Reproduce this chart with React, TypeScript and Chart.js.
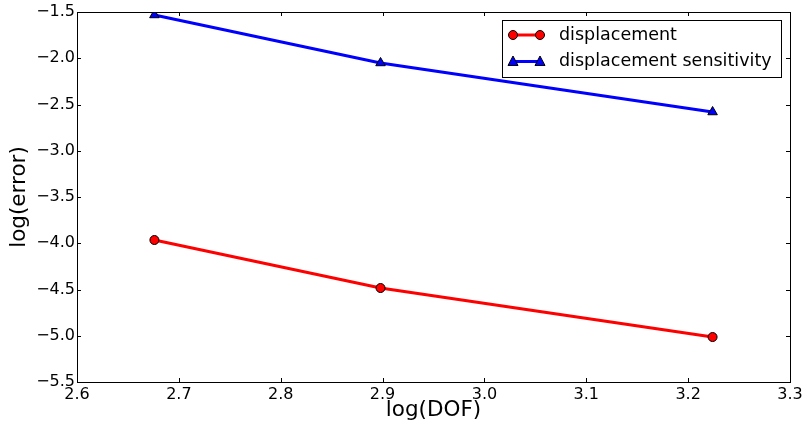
import React, { useEffect, useRef } from "react";
import { Chart, registerables } from "chart.js";

Chart.register(...registerables);

const logDOF = [2.676, 2.898, 3.224];
const displacementErr = [-3.965, -4.484, -5.014];
const sensitivityErr = [-1.532, -2.051, -2.581];
const seriesLabels = ["displacement", "displacement sensitivity"];
const xTitle = "log(DOF)";
const yTitle = "log(error)";

const FONT = "'DejaVu Sans', sans-serif";

const fmt = (v: number) => (v < 0 ? "\u2212" : "") + Math.abs(v).toFixed(1);

const framePlugin = {
  id: "mplFrame",
  afterDraw(chart: any) {
    const { ctx, chartArea } = chart;
    const { left, right, top, bottom } = chartArea;
    const xs = chart.scales.x;
    const ys = chart.scales.y;
    ctx.save();
    ctx.strokeStyle = "#000";
    ctx.lineWidth = 1;
    ctx.strokeRect(Math.round(left) + 0.5, Math.round(top) + 0.5, Math.round(right - left), Math.round(bottom - top));
    const tl = 4;
    ctx.beginPath();
    xs.ticks.forEach((t: any) => {
      const px = Math.round(xs.getPixelForValue(t.value)) + 0.5;
      ctx.moveTo(px, bottom);
      ctx.lineTo(px, bottom - tl);
      ctx.moveTo(px, top);
      ctx.lineTo(px, top + tl);
    });
    ys.ticks.forEach((t: any) => {
      const py = Math.round(ys.getPixelForValue(t.value)) + 0.5;
      ctx.moveTo(left, py);
      ctx.lineTo(left + tl, py);
      ctx.moveTo(right, py);
      ctx.lineTo(right - tl, py);
    });
    ctx.stroke();

    // legend (matplotlib style)
    const bx = 502.5, by = 20.5, bw = 279, bh = 57;
    ctx.fillStyle = "#fff";
    ctx.fillRect(bx, by, bw, bh);
    ctx.strokeStyle = "#000";
    ctx.strokeRect(bx, by, bw, bh);
    const rows = [
      { y: 35, color: "#ff0000", shape: "circle", label: seriesLabels[0] },
      { y: 61.5, color: "#0000ff", shape: "triangle", label: seriesLabels[1] },
    ];
    rows.forEach((r) => {
      ctx.strokeStyle = r.color;
      ctx.lineWidth = 3;
      ctx.beginPath();
      ctx.moveTo(513, r.y);
      ctx.lineTo(540, r.y);
      ctx.stroke();
      [513, 540].forEach((mx) => {
        ctx.fillStyle = r.color;
        ctx.strokeStyle = "#000";
        ctx.lineWidth = 1;
        ctx.beginPath();
        if (r.shape === "circle") {
          ctx.arc(mx, r.y, 4.5, 0, Math.PI * 2);
        } else {
          ctx.moveTo(mx, r.y - 5.5);
          ctx.lineTo(mx + 5, r.y + 4);
          ctx.lineTo(mx - 5, r.y + 4);
          ctx.closePath();
        }
        ctx.fill();
        ctx.stroke();
      });
      ctx.fillStyle = "#000";
      ctx.font = "17.5px " + FONT;
      ctx.textAlign = "left";
      ctx.textBaseline = "middle";
      ctx.fillText(r.label, 559, r.y);
    });
    ctx.restore();
  },
};

export default function App() {
  const ref = useRef<HTMLCanvasElement>(null);
  useEffect(() => {
    if (!ref.current) return;
    const chart = new Chart(ref.current, {
      type: "line",
      data: {
        datasets: [
          {
            label: seriesLabels[0],
            data: logDOF.map((x, i) => ({ x, y: displacementErr[i] })),
            borderColor: "#ff0000",
            backgroundColor: "#ff0000",
            borderWidth: 3,
            pointStyle: "circle",
            pointRadius: 4.5,
            pointBorderColor: "#000",
            pointBorderWidth: 1,
          },
          {
            label: seriesLabels[1],
            data: logDOF.map((x, i) => ({ x, y: sensitivityErr[i] })),
            borderColor: "#0000ff",
            backgroundColor: "#0000ff",
            borderWidth: 3,
            pointStyle: "triangle",
            pointRadius: 5.5,
            pointBorderColor: "#000",
            pointBorderWidth: 1,
          },
        ],
      },
      options: {
        responsive: false,
        animation: false,
        layout: { padding: { left: 0, top: 12, right: 18, bottom: 0 } },
        plugins: { legend: { display: false }, tooltip: { enabled: false } },
        scales: {
          x: {
            type: "linear",
            min: 2.6,
            max: 3.3,
            grid: { display: false, drawTicks: false },
            border: { display: false },
            ticks: {
              stepSize: 0.1,
              padding: 3,
              color: "#000",
              font: { family: FONT, size: 16 },
              maxRotation: 0,
              callback: (v: any) => fmt(Number(v)),
            },
            title: {
              display: true,
              text: xTitle,
              color: "#000",
              font: { family: FONT, size: 21.5 },
              padding: { top: 0, bottom: 7 },
            },
            afterFit: (s: any) => {
              s.height = 48;
            },
          },
          y: {
            type: "linear",
            min: -5.5,
            max: -1.5,
            grid: { display: false, drawTicks: false },
            border: { display: false },
            ticks: {
              stepSize: 0.5,
              padding: 2,
              color: "#000",
              font: { family: FONT, size: 16 },
              callback: (v: any) => fmt(Number(v)),
            },
            title: {
              display: true,
              text: yTitle,
              color: "#000",
              font: { family: FONT, size: 21.5 },
              padding: { top: 7, bottom: 0 },
            },
            afterFit: (s: any) => {
              s.width = 77;
            },
          },
        },
      },
      plugins: [framePlugin],
    });
    return () => chart.destroy();
  }, []);
  return (
    <div style={{ position: "absolute", left: 0, top: 0, width: 808, height: 430, background: "#fff" }}>
      <canvas ref={ref} width={808} height={430} style={{ display: "block" }} />
    </div>
  );
}
